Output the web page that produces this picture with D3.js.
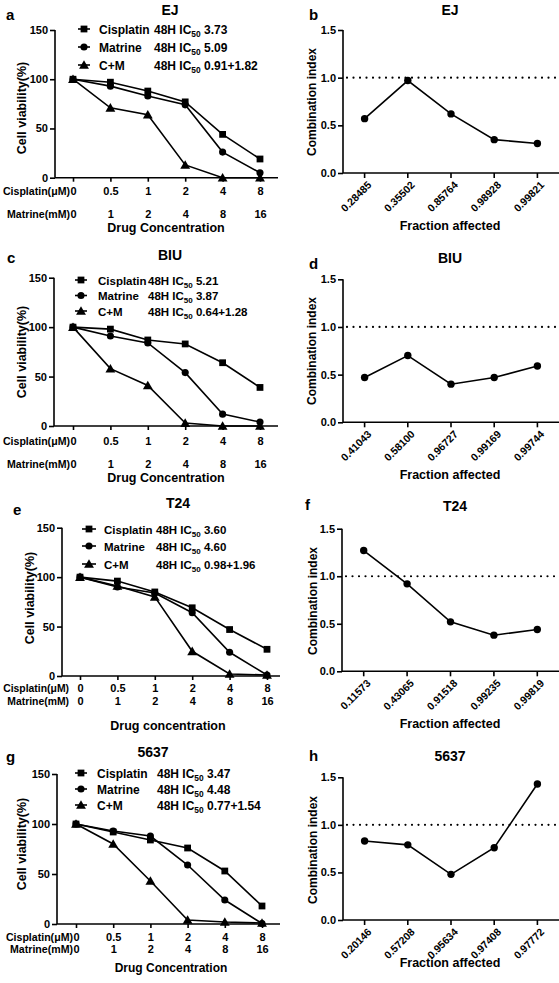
<!DOCTYPE html>
<html>
<head>
<meta charset="utf-8">
<script src="https://cdn.jsdelivr.net/npm/d3@7/dist/d3.min.js"></script>
<style>
  html, body { margin: 0; padding: 0; background: #fff; }
  svg { display: block; }
  text { font-family: "Liberation Sans", Arial, sans-serif; font-weight: bold; fill: #000; }
</style>
</head>
<body>
<svg id="chart" width="559" height="983"></svg>
<script>
// ---------------- DATA ----------------
const cisplatinDoses = ["0", "0.5", "1", "2", "4", "8"];
const matrineDoses = ["0", "1", "2", "4", "8", "16"];
const viabilityTicks = [0, 50, 100, 150];
const ciTicks = [0, 0.5, 1.0, 1.5];
const seriesNames = ["Cisplatin", "Matrine", "C+M"];

// EJ
const ejCisplatin = [100, 97, 88, 77, 44, 19];
const ejMatrine = [100, 93, 83, 74, 26, 5];
const ejCM = [100, 71, 64, 13, 0, 0];
const ejIC50 = ["3.73", "5.09", "0.91+1.82"];
const ejFa = ["0.28485", "0.35502", "0.85764", "0.98928", "0.99821"];
const ejCI = [0.57, 0.97, 0.62, 0.35, 0.31];

// BIU
const biuCisplatin = [100, 98, 87, 83, 64, 39];
const biuMatrine = [100, 91, 84, 54, 12, 4];
const biuCM = [100, 58, 41, 3, 0, 0];
const biuIC50 = ["5.21", "3.87", "0.64+1.28"];
const biuFa = ["0.41043", "0.58100", "0.96727", "0.99169", "0.99744"];
const biuCI = [0.47, 0.70, 0.40, 0.47, 0.59];

// T24
const t24Cisplatin = [100, 96, 85, 69, 47, 27];
const t24Matrine = [100, 90, 84, 64, 24, 1];
const t24CM = [100, 91, 80, 25, 2, 1];
const t24IC50 = ["3.60", "4.60", "0.98+1.96"];
const t24Fa = ["0.11573", "0.43065", "0.91518", "0.99235", "0.99819"];
const t24CI = [1.27, 0.92, 0.52, 0.38, 0.44];

// 5637
const c5637Cisplatin = [100, 92, 84, 76, 53, 18];
const c5637Matrine = [100, 93, 88, 59, 24, 0.5];
const c5637CM = [100, 80, 43, 4, 2, 1];
const c5637IC50 = ["3.47", "4.48", "0.77+1.54"];
const c5637Fa = ["0.20146", "0.57208", "0.95634", "0.97408", "0.97772"];
const c5637CI = [0.83, 0.79, 0.48, 0.76, 1.43];

// ---------------- LAYOUT ----------------
const svg = d3.select("#chart");
const SW = 1.6;
const symbols = [d3.symbolSquare, d3.symbolCircle, d3.symbolTriangle];
const symSizes = [46, 40, 42];

function styleAxis(g) {
  g.selectAll("path, line").attr("stroke", "#000").attr("stroke-width", SW);
  g.selectAll("text").style("font-family", "'Liberation Sans', Arial, sans-serif").style("font-weight", "bold");
}

function drawViability(L, seriesData, ic50) {
  const g = svg.append("g");
  const y = d3.scaleLinear().domain([0, 150]).range([L.yBot, L.yTop]);
  const x = d3.scalePoint().domain(cisplatinDoses).range([L.xFirst, L.xLast]);

  // y axis
  const ya = g.append("g").attr("transform", `translate(${L.axisX},0)`)
    .call(d3.axisLeft(y).tickValues(viabilityTicks).tickSize(5).tickSizeOuter(0).tickPadding(2));
  styleAxis(ya);
  ya.selectAll("text").attr("font-size", 11);
  ya.select(".domain").attr("d", `M0,${L.yTop}V${L.yBot}`);

  // x axis (row 1: cisplatin)
  const xa = g.append("g").attr("transform", `translate(0,${L.yBot})`)
    .call(d3.axisBottom(x).tickSize(4).tickSizeOuter(0));
  styleAxis(xa);
  xa.select(".domain").remove();
  xa.selectAll("text").attr("font-size", 11).attr("y", L.row1Y - L.yBot).attr("dy", 0);
  g.append("line").attr("x1", L.axisX).attr("x2", L.xEnd).attr("y1", L.yBot).attr("y2", L.yBot)
    .attr("stroke", "#000").attr("stroke-width", SW);

  // row 2: matrine
  const xm = d3.scalePoint().domain(matrineDoses).range([L.xFirst, L.xLast]);
  const xa2 = g.append("g").attr("transform", `translate(0,${L.yBot})`)
    .call(d3.axisBottom(xm).tickSize(0));
  xa2.select(".domain").remove();
  styleAxis(xa2);
  xa2.selectAll("text").attr("font-size", 11).attr("y", L.row2Y - L.yBot).attr("dy", 0);

  g.append("text").attr("x", L.xFirst - L.prefixGap).attr("y", L.row1Y).attr("text-anchor", "end")
    .attr("font-size", L.prefixFont).text("Cisplatin(\u03BCM)");
  g.append("text").attr("x", L.xFirst - L.prefixGap).attr("y", L.row2Y).attr("text-anchor", "end")
    .attr("font-size", L.prefixFont).text("Matrine(mM)");

  g.append("text").attr("x", L.xTitleX).attr("y", L.xTitleY).attr("text-anchor", "middle")
    .attr("font-size", L.xTitleFont).text(L.xTitle);

  g.append("text").attr("transform", `translate(${L.yTitleX},${L.yTitleY}) rotate(-90)`)
    .attr("text-anchor", "middle").attr("dy", "0.35em").attr("font-size", 12.5).text("Cell viability(%)");

  // title + letter
  g.append("text").attr("x", L.titleX).attr("y", L.titleY).attr("text-anchor", "middle")
    .attr("font-size", 14).text(L.title);
  g.append("text").attr("x", L.letterX).attr("y", L.letterY).attr("font-size", 15).text(L.letter);

  // lines
  const line = d3.line().x((d, i) => x(cisplatinDoses[i])).y(d => y(d));
  seriesData.forEach((s) => {
    g.append("path").attr("d", line(s)).attr("fill", "none").attr("stroke", "#000").attr("stroke-width", SW);
  });
  seriesData.forEach((s, k) => {
    g.selectAll(null).data(s).enter().append("path")
      .attr("transform", (d, i) => `translate(${x(cisplatinDoses[i])},${y(d) + (k === 2 ? 1 : 0)})`)
      .attr("d", d3.symbol().type(symbols[k]).size(symSizes[k]))
      .attr("fill", "#000");
  });

  // legend
  seriesNames.forEach((nm, k) => {
    const ly = L.legY[k];
    g.append("line").attr("x1", L.legX1).attr("x2", L.legX2).attr("y1", ly).attr("y2", ly)
      .attr("stroke", "#000").attr("stroke-width", SW);
    g.append("path").attr("transform", `translate(${(L.legX1 + L.legX2) / 2},${ly + (k === 2 ? 1 : 0)})`)
      .attr("d", d3.symbol().type(symbols[k]).size(symSizes[k])).attr("fill", "#000");
    g.append("text").attr("x", L.legText).attr("y", ly + 4.5).attr("font-size", L.legFont).text(nm);
    const t = g.append("text").attr("x", L.legCol2).attr("y", ly + 4.5).attr("font-size", L.legFont);
    t.append("tspan").text("48H IC");
    t.append("tspan").attr("font-size", L.legFont * 0.7).attr("dy", 3).text("50");
    t.append("tspan").attr("dy", -3).text("\u00A0" + ic50[k]);
  });
}

function drawCI(L, fa, ci) {
  const g = svg.append("g");
  const y = d3.scaleLinear().domain([0, 1.5]).range([L.yBot, L.yTop]);
  const x = d3.scaleBand().domain(fa).range([L.axisX, 559]);
  const cx = d => x(d) + x.bandwidth() / 2;

  const ya = g.append("g").attr("transform", `translate(${L.axisX},0)`)
    .call(d3.axisLeft(y).tickValues(ciTicks).tickFormat(d3.format(".1f")).tickSize(5).tickSizeOuter(0).tickPadding(2));
  styleAxis(ya);
  ya.selectAll("text").attr("font-size", 11);
  ya.select(".domain").attr("d", `M0,${L.yTop}V${L.yBot}`);

  const xa = g.append("g").attr("transform", `translate(0,${L.yBot})`)
    .call(d3.axisBottom(x).tickSize(5).tickSizeOuter(0));
  styleAxis(xa);
  xa.select(".domain").attr("d", `M${L.axisX},0H559`);
  xa.selectAll("text").attr("font-size", 10.5).attr("x", 0).attr("y", 0).attr("dy", "0.35em")
    .attr("text-anchor", "end").attr("transform", "translate(5,10) rotate(-45)");

  // reference line at CI = 1
  g.append("line").attr("x1", L.axisX + 4).attr("x2", 559).attr("y1", y(1)).attr("y2", y(1))
    .attr("stroke", "#000").attr("stroke-width", 2.2).attr("stroke-dasharray", "0,6.5")
    .attr("stroke-linecap", "round");

  const line = d3.line().x((d, i) => cx(fa[i])).y(d => y(d));
  g.append("path").attr("d", line(ci)).attr("fill", "none").attr("stroke", "#000").attr("stroke-width", SW);
  g.selectAll(null).data(ci).enter().append("circle")
    .attr("cx", (d, i) => cx(fa[i])).attr("cy", d => y(d)).attr("r", 3.7).attr("fill", "#000");

  g.append("text").attr("transform", `translate(${L.yTitleX},${L.yTitleY}) rotate(-90)`)
    .attr("text-anchor", "middle").attr("dy", "0.35em").attr("font-size", 12).text("Combination index");
  g.append("text").attr("x", 450).attr("y", L.xTitleY).attr("text-anchor", "middle")
    .attr("font-size", 12.5).text("Fraction affected");
  g.append("text").attr("x", L.titleX).attr("y", L.titleY).attr("text-anchor", "middle")
    .attr("font-size", 14).text(L.title);
  g.append("text").attr("x", L.letterX).attr("y", L.letterY).attr("font-size", 15).text(L.letter);
}

// ---------------- PANELS ----------------
drawViability({
  axisX: 55, xFirst: 73, xLast: 260, xEnd: 278, yTop: 30, yBot: 177.7,
  title: "EJ", titleX: 170, titleY: 15, letter: "a", letterX: 6, letterY: 20,
  legX1: 78, legX2: 90, legText: 99, legCol2: 154, legY: [29, 47, 65], legFont: 12,
  row1Y: 195, row2Y: 217.7, prefixGap: 3, prefixFont: 10.6, xTitle: "Drug Concentration", xTitleX: 166, xTitleY: 231.5, xTitleFont: 12.5,
  yTitleX: 22, yTitleY: 108
}, [ejCisplatin, ejMatrine, ejCM], ejIC50);

drawViability({
  axisX: 54, xFirst: 73, xLast: 260, xEnd: 278, yTop: 277.7, yBot: 426,
  title: "BIU", titleX: 170, titleY: 260, letter: "c", letterX: 7, letterY: 263,
  legX1: 75, legX2: 87, legText: 98, legCol2: 148, legY: [280, 295.5, 311], legFont: 11.5,
  row1Y: 445, row2Y: 467.7, prefixGap: 3, prefixFont: 10.6, xTitle: "Drug Concentration", xTitleX: 166, xTitleY: 481.5, xTitleFont: 12.5,
  yTitleX: 22, yTitleY: 352
}, [biuCisplatin, biuMatrine, biuCM], biuIC50);

drawViability({
  axisX: 62, xFirst: 80, xLast: 267, xEnd: 280, yTop: 527.7, yBot: 676,
  title: "T24", titleX: 178, titleY: 508, letter: "e", letterX: 13, letterY: 515,
  legX1: 82, legX2: 96, legText: 104, legCol2: 156, legY: [529, 546, 564], legFont: 11.5,
  row1Y: 692, row2Y: 705, prefixGap: 11, prefixFont: 10.4, xTitle: "Drug concentration", xTitleX: 168, xTitleY: 730, xTitleFont: 12.5,
  yTitleX: 30, yTitleY: 598
}, [t24Cisplatin, t24Matrine, t24CM], t24IC50);

drawViability({
  axisX: 57, xFirst: 76, xLast: 262, xEnd: 280, yTop: 774, yBot: 924,
  title: "5637", titleX: 153, titleY: 757, letter: "g", letterX: 6, letterY: 762,
  legX1: 75, legX2: 87, legText: 97, legCol2: 157, legY: [773, 789, 805], legFont: 12,
  row1Y: 941, row2Y: 953, prefixGap: 3, prefixFont: 10.6, xTitle: "Drug Concentration", xTitleX: 171, xTitleY: 971.5, xTitleFont: 12,
  yTitleX: 22, yTitleY: 844
}, [c5637Cisplatin, c5637Matrine, c5637CM], c5637IC50);

drawCI({ axisX: 343, yTop: 30, yBot: 173, title: "EJ", titleX: 450, titleY: 14.5, letter: "b", letterX: 309, letterY: 20,
  yTitleX: 312, yTitleY: 102, xTitleY: 230 }, ejFa, ejCI);
drawCI({ axisX: 343, yTop: 279.3, yBot: 422.3, title: "BIU", titleX: 450, titleY: 263, letter: "d", letterX: 309, letterY: 269,
  yTitleX: 312, yTitleY: 351, xTitleY: 479 }, biuFa, biuCI);
drawCI({ axisX: 342, yTop: 528.7, yBot: 671.3, title: "T24", titleX: 455, titleY: 511, letter: "f", letterX: 305, letterY: 510,
  yTitleX: 313, yTitleY: 601, xTitleY: 728 }, t24Fa, t24CI);
drawCI({ axisX: 343, yTop: 777.3, yBot: 920, title: "5637", titleX: 450, titleY: 761, letter: "h", letterX: 309, letterY: 761,
  yTitleX: 313, yTitleY: 850, xTitleY: 966.5 }, c5637Fa, c5637CI);
</script>
</body>
</html>
